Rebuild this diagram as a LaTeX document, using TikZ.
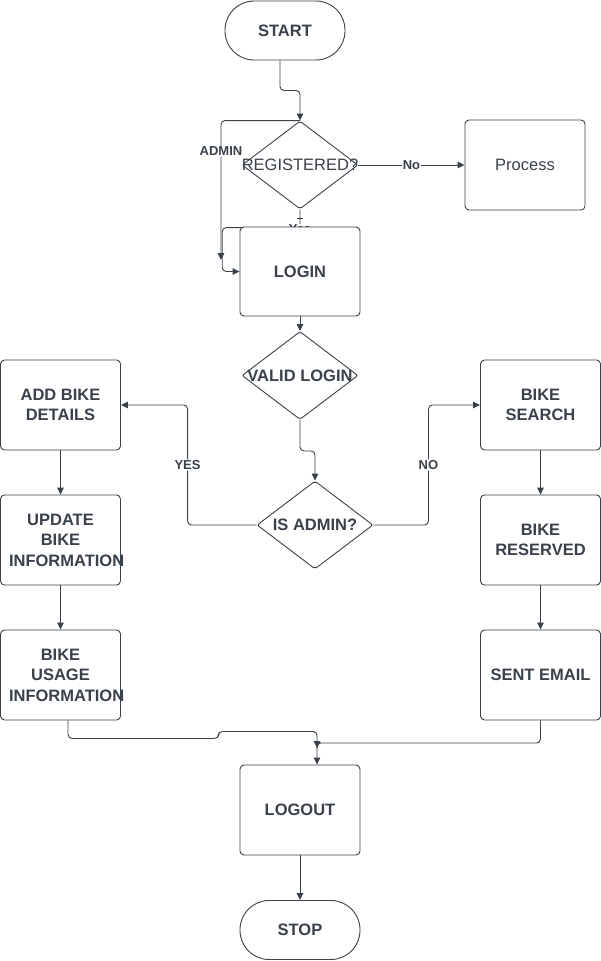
\documentclass[tikz,border=0pt]{standalone}
\usepackage{fontspec}
\setmainfont{Liberation Sans}
\usepackage{xcolor}
\usepackage{tikz}
\usetikzlibrary{shapes,positioning,calc,arrows.meta,backgrounds}
\definecolor{ink}{HTML}{3A414A}

\begin{document}
\begin{tikzpicture}[x=1pt,y=-1pt,
    box/.style={draw=ink, line width=0.9pt, rounded corners=4pt, fill=white, minimum width=120pt, minimum height=90pt, inner sep=0pt, align=center, text=ink, font=\fontsize{16.5}{20.5}\selectfont\bfseries},
    term/.style={box, rounded corners=29pt, minimum height=59pt},
    decision/.style={draw=ink, line width=0.9pt, diamond, rounded corners=2pt, fill=white, minimum width=116pt, minimum height=88pt, inner sep=0pt},
    dtext/.style={text=ink, inner sep=0pt, font=\fontsize{16.5}{20.5}\selectfont\bfseries},
    flow/.style={draw=ink, line width=0.9pt, rounded corners=4pt, -{Triangle[length=7pt,width=6.5pt]}},
    line/.style={draw=ink, line width=0.9pt},
    elabel/.style={fill=white, text=ink, inner sep=1pt, font=\fontsize{13}{15}\selectfont\bfseries}]
    \useasboundingbox (0,0) rectangle (601,961);

    % Login part
    \node[term] (start) at (285,30.5) {START};
    \node[decision, label={[dtext, font=\fontsize{16.5}{20.5}\selectfont]center:REGISTERED?}] (reg) at (300,165) {};
    \node[box, font=\fontsize{16.5}{20.5}\selectfont] (process) at (525,165) {Process};
    \node[box, minimum height=89pt] (login) at (300,271.5) {LOGIN};
    \node[decision, label={[dtext]center:VALID LOGIN}] (valid) at (300,375.5) {};
    \node[decision, label={[dtext]center:IS ADMIN?}] (admin) at (315,525) {};

    % Admin side
    \node[box] (addbike) at (60.5,405) {ADD BIKE\\DETAILS};
    \node[box] (update) at (60.5,540) {UPDATE\\BIKE\\\makebox[116pt][l]{\hspace*{6.5pt}INFORMATION}};
    \node[box] (usage) at (60.5,675) {BIKE\\USAGE\\\makebox[116pt][l]{\hspace*{6.5pt}INFORMATION}};

    % User side
    \node[box] (search) at (540.5,405) {BIKE\\SEARCH};
    \node[box] (reserved) at (540.5,540) {BIKE\\RESERVED};
    \node[box] (email) at (540.5,675) {SENT EMAIL};

    \node[box] (logout) at (300,810) {LOGOUT};
    \node[term] (stop) at (300,930) {STOP};

    \coordinate (adminend) at (221,260);
    \coordinate (join) at (317,748);

    \draw[flow] ([xshift=-5pt]start.south) -- ++(0,30) -| (reg.north);
    \draw[flow] (reg.north) -| node[elabel, pos=0.61] {ADMIN} (adminend);
    \draw[flow] (reg.east) -- node[elabel] {No} (process.west);
    \begin{pgfonlayer}{background}
        \draw[line] ([xshift=-3pt,yshift=-9pt]reg.south) -- ++(6,0);
        \draw[flow] (reg.south) |- node[elabel, pos=0.5, yshift=-2pt] {Yes} ([xshift=-17.3pt,yshift=-1pt]login.north west) |- (login.west);
    \end{pgfonlayer}
    \draw[flow] (login.south) -- (valid.north);
    \draw[flow] (valid.south) -- ++(0,31) -| (admin.north);
    \draw[flow] (admin.west) -- ++(-69,0) |- node[elabel, pos=0.25] {YES} (addbike.east);
    \draw[flow] (admin.east) -- ++(55,0) |- node[elabel, pos=0.25] {NO} (search.west);

    \draw[flow] (addbike.south) -- (update.north);
    \draw[flow] (update.south) -- (usage.north);
    \draw[flow] (search.south) -- (reserved.north);
    \draw[flow] (reserved.south) -- (email.north);

    % Logout
    \draw[flow] ([xshift=7.5pt]usage.south) -- ++(0,18) -- ++(150.5,0) -- ++(0,-7) -| ([xshift=17pt]logout.north);
    \draw[flow] (email.south) |- ([yshift=5pt]join) -- (join);
    \draw[flow] (logout.south) -- (stop.north);
\end{tikzpicture}
\end{document}
